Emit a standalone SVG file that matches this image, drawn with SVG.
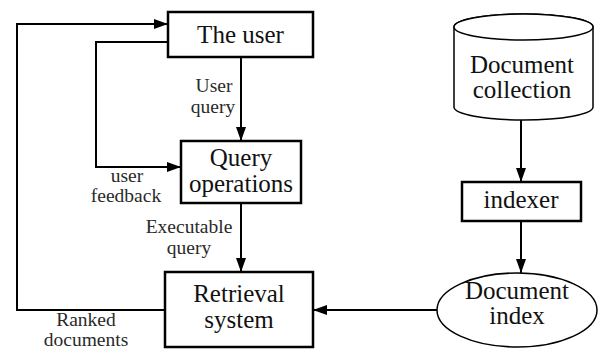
<svg xmlns="http://www.w3.org/2000/svg" width="602" height="351" viewBox="0 0 602 351">
<style>
.box{fill:#fff;stroke:#000;stroke-width:2.5}
.shape{fill:#fff;stroke:#000;stroke-width:1.5}
.line{fill:none;stroke:#000;stroke-width:2}
.t{font-family:'Liberation Serif',serif;font-size:25px;fill:#111;text-anchor:middle}
.l{font-family:'Liberation Serif',serif;font-size:19.5px;fill:#2a2a2a;text-anchor:middle}
</style>
<defs>
<marker id="ah2" viewBox="0 0 10 10" refX="10" refY="5" markerWidth="14" markerHeight="10" markerUnits="userSpaceOnUse" orient="auto" preserveAspectRatio="none">
<path d="M0,0 L10,5 L0,10 Z" fill="#000"/>
</marker>
</defs>
<g id="connectors">
<path class="line" d="M165,310 H17 V24 H168" marker-end="url(#ah2)"/>
<path class="line" d="M168,42 H96 V167 H181" marker-end="url(#ah2)"/>
<path class="line" d="M241,57 V141" marker-end="url(#ah2)"/>
<path class="line" d="M241,203 V272" marker-end="url(#ah2)"/>
<path class="line" d="M521,120 V182" marker-end="url(#ah2)"/>
<path class="line" d="M521,221 V273" marker-end="url(#ah2)"/>
<path class="line" d="M437,310 H313" marker-end="url(#ah2)"/>
<text class="l" x="214" y="92">User</text>
<text class="l" x="213" y="113">query</text>
<text class="l" x="127" y="182">user</text>
<text class="l" x="126" y="202">feedback</text>
<text class="l" x="189" y="233">Executable</text>
<text class="l" x="189" y="254">query</text>
<text class="l" x="86" y="326">Ranked</text>
<text class="l" x="86" y="346">documents</text>
</g>
<g id="the-user">
<rect class="box" x="168" y="12" width="145" height="45"/>
<text class="t" x="240.5" y="43">The user</text>
</g>
<g id="query-operations">
<rect class="box" x="181" y="141" width="120" height="62"/>
<text class="t" x="241" y="166">Query</text>
<text class="t" x="241" y="192">operations</text>
</g>
<g id="retrieval-system">
<rect class="box" x="165" y="272" width="148" height="75"/>
<text class="t" x="239" y="302">Retrieval</text>
<text class="t" x="239" y="328">system</text>
</g>
<g id="document-collection">
<path class="shape" d="M454,27 V107 A69.5,13 0 0 0 593,107 V27 A69.5,13 0 0 0 454,27 Z"/>
<ellipse class="shape" cx="523.5" cy="27" rx="69.5" ry="13"/>
<text class="t" x="522" y="73">Document</text>
<text class="t" x="522" y="98">collection</text>
</g>
<g id="indexer">
<rect class="box" x="462" y="182" width="119" height="39"/>
<text class="t" x="521" y="208">indexer</text>
</g>
<g id="document-index">
<ellipse class="shape" cx="517" cy="310" rx="80" ry="37"/>
<text class="t" x="517" y="299">Document</text>
<text class="t" x="517" y="324">index</text>
</g>
</svg>
